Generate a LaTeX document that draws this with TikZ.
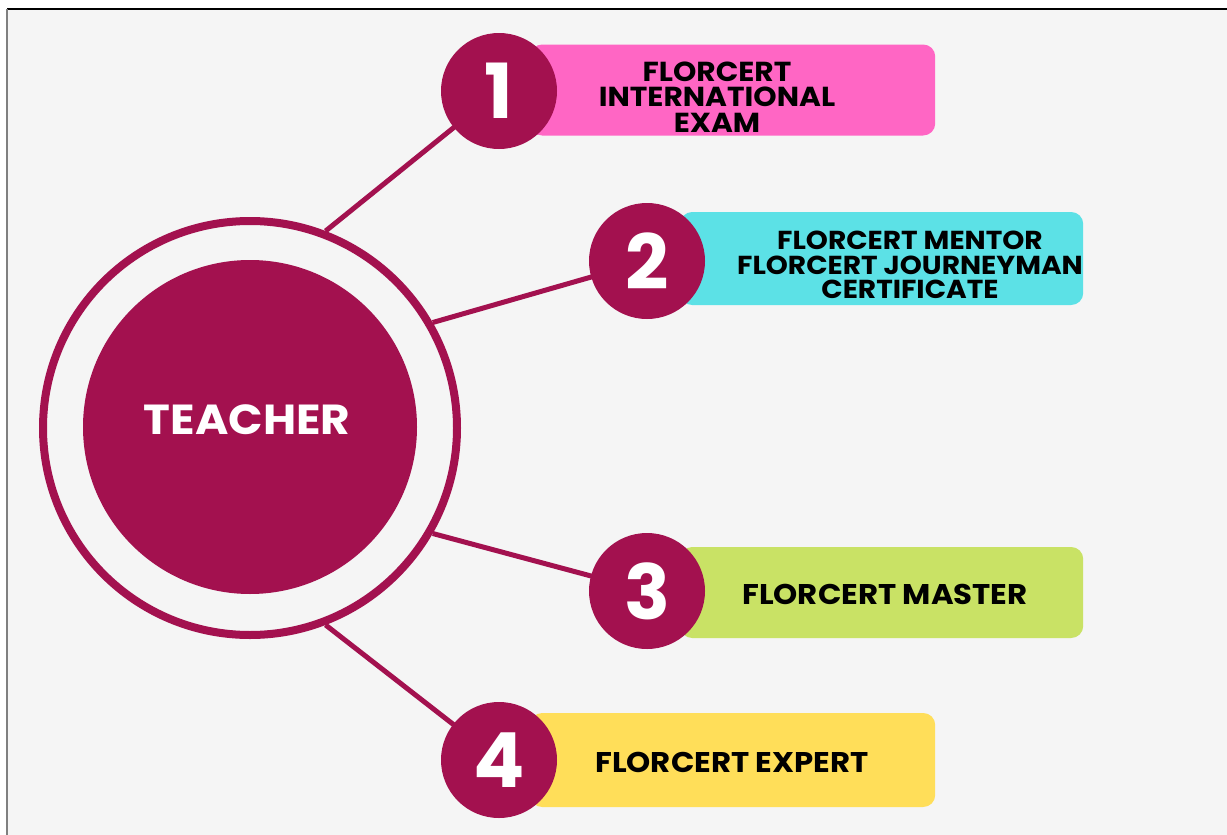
\documentclass[tikz,border=0pt]{standalone}
\usepackage{fontspec}
\setmainfont{Poppins}
\newfontfamily\widefont[FakeStretch=1.08]{Poppins}
\usetikzlibrary{backgrounds}
\definecolor{mag}{HTML}{A3114F}
\definecolor{bgc}{HTML}{F5F5F5}
\definecolor{pinkbox}{HTML}{FF66C4}
\definecolor{cyanbox}{HTML}{5CE1E6}
\definecolor{greenbox}{HTML}{C9E265}
\definecolor{yellowbox}{HTML}{FFDE59}
\begin{document}
\begin{tikzpicture}[x=1pt,y=-1pt,
  ring/.style={circle, draw=mag, line width=8pt, minimum size=414pt, inner sep=0pt},
  hub/.style={circle, fill=mag, minimum size=334pt, inner sep=0pt},
  hublbl/.style={text=white, inner sep=0pt, font=\widefont\fontsize{42}{42}\selectfont\bfseries},
  numc/.style={circle, fill=mag, minimum size=116pt, inner sep=0pt, text=white, font=\fontsize{76}{76}\selectfont\bfseries},
  stepbox/.style={rectangle, rounded corners=12pt, anchor=west, inner sep=0pt},
  lbl/.style={align=center, text=black, inner sep=0pt},
  link/.style={draw=mag, line width=5pt}
]
\useasboundingbox (0,0) rectangle (1227,835);
% boxes
\node[stepbox, fill=pinkbox, minimum width=405pt, minimum height=91pt] (b1) at (530,90) {};
\node[stepbox, fill=cyanbox, minimum width=403pt, minimum height=93pt] (b2) at (680,258.5) {};
\node[stepbox, fill=greenbox, minimum width=403pt, minimum height=91pt] (b3) at (680,592.5) {};
\node[stepbox, fill=yellowbox, minimum width=405pt, minimum height=94pt] (b4) at (530,760) {};
% labels
\node[lbl, font=\widefont\fontsize{27.5}{25.5}\selectfont\bfseries] (t1) at (717,97) {FLORCERT\\INTERNATIONAL\\EXAM};
\node[lbl, font=\widefont\fontsize{26}{24.5}\selectfont\bfseries] (t2) at (910,265) {FLORCERT MENTOR\\FLORCERT JOURNEYMAN\\CERTIFICATE};
\node[lbl, font=\widefont\fontsize{28.5}{28.5}\selectfont\bfseries] (t3) at (885,594) {FLORCERT MASTER};
\node[lbl, font=\widefont\fontsize{28.5}{28.5}\selectfont\bfseries] (t4) at (732,762) {FLORCERT EXPERT};
% hub
\node[ring] (ring) at (250,428) {};
\node[hub] (teacher) at (250,427) {};
\node[hublbl] (tlabel) at (247,420) {TEACHER};
% number circles
\node[numc] (n1) at (499,91) {1};
\node[numc] (n2) at (647,261) {2};
\node[numc] (n3) at (647,591) {3};
\node[numc] (n4) at (499,760) {4};
% background and connectors
\begin{scope}[on background layer]
  \fill[white] (0,0) rectangle (1227,835);
  \fill[bgc] (7,9) rectangle (1227,835);
  \draw[black, line width=2pt] (7,9) -- (1227,9);
  \draw[gray, line width=2pt] (7,9) -- (7,835);
  \draw[link] (ring.69) -- (n1.center);
  \draw[link] (ring.30) -- (n2.center);
  \draw[link] (ring.-30) -- (n3.center);
  \draw[link] (ring.-69) -- (n4.center);
\end{scope}
\end{tikzpicture}
\end{document}
